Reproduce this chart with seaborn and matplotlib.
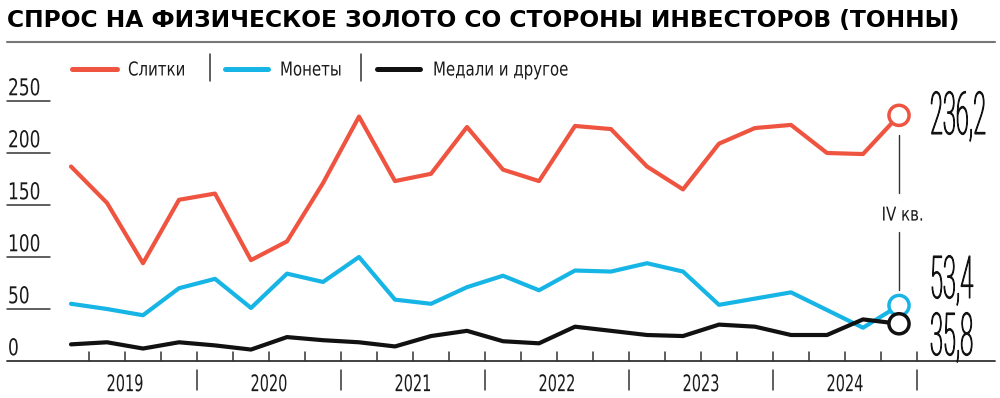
import seaborn as sns
import matplotlib.pyplot as plt
import pandas as pd
from matplotlib.lines import Line2D
from matplotlib.patheffects import AbstractPathEffect
from matplotlib.transforms import Affine2D

# DATA (тонны, 2019 Q1 - 2024 Q4)
years = ["2019", "2020", "2021", "2022", "2023", "2024"]
series_names = ["Слитки", "Монеты", "Медали и другое"]

slitki = [187, 152, 94, 155, 161, 97, 115, 171,
          235, 173, 180, 225, 184, 173, 226, 223,
          187, 165, 209, 224, 227, 200, 199, 236.2]
monety = [55, 50, 44, 70, 79, 51, 84, 76,
          100, 59, 55, 71, 82, 68, 87, 86,
          94, 86, 54, 60, 66, 49, 32, 53.4]
medali = [16, 18, 12, 18, 15, 11, 23, 20,
          18, 14, 24, 29, 19, 17, 33, 29,
          25, 24, 35, 33, 25, 25, 40, 35.8]

end_labels = ["236,2", "53,4", "35,8"]
y_ticks = [0, 50, 100, 150, 200, 250]

colors = ["#EE5440", "#17B5E5", "#111111"]

quarters = list(range(len(slitki)))
df = pd.DataFrame({
    "q": quarters * 3,
    "value": slitki + monety + medali,
    "series": [series_names[0]] * 24 + [series_names[1]] * 24 + [series_names[2]] * 24,
})
last = df[df["q"] == quarters[-1]]


# узкий шрифт: растягиваем буквы по вертикали (и при желании чуть утолщаем)
class Stretch(AbstractPathEffect):
    def __init__(self, sy, lw=0):
        super().__init__()
        self.sy = sy
        self.lw = lw

    def draw_path(self, renderer, gc, tpath, affine, rgbFace=None):
        tr = Affine2D().scale(1, self.sy) + affine
        if self.lw:
            gc0 = renderer.new_gc()
            gc0.copy_properties(gc)
            gc0.set_linewidth(self.lw)
            gc0.set_foreground(rgbFace)
            gc0.set_joinstyle("round")
            renderer.draw_path(gc0, tpath, tr, rgbFace)
            gc0.restore()
        else:
            renderer.draw_path(gc, tpath, tr, rgbFace)


narrow = dict(family="DejaVu Sans", fontstretch="condensed", color="#1a1a1a")

#GRAFICANDO
sns.set_style("white")
plt.rcParams["font.family"] = ["DejaVu Sans"]

fig = plt.figure(figsize=(10, 3.98), dpi=100)
ax = fig.add_axes([0, 0, 1, 1])

# 1 квартал = 36 px, 1 тонна = 1.04 px
ax.set_xlim(-71 / 36, (1000 - 71) / 36)
ax.set_ylim((361 - 398) / 1.04, 361 / 1.04)
ax.axis("off")

sns.lineplot(data=df, x="q", y="value", hue="series", palette=colors,
             linewidth=3, legend=False, ax=ax)
sns.scatterplot(data=last, x="q", y="value", hue="series", palette=colors,
                s=210, linewidth=2.5, legend=False, ax=ax, zorder=5)
for coll in ax.collections:
    coll.set_facecolor("white")
    coll.set_edgecolor(colors)

# ось и деления
ax.axhline(0, xmin=0.007, xmax=0.995, color="#333333", lw=1.3)
for i in quarters:
    ax.plot([i + 0.5, i + 0.5], [0, 8.5], color="#333333", lw=1.1)
for k, year in enumerate(years):
    ax.plot([4 * k + 3.5] * 2, [-8.5, -28], color="#333333", lw=1.1)
    ax.text(4 * k + 1.5, -29, year, ha="center", va="baseline",
            fontsize=11.6, path_effects=[Stretch(1.42)], **narrow)

# шкала
for v in y_ticks[1:]:
    ax.plot([-1.78, -0.58], [v, v], color="#333333", lw=1.1)
for v in y_ticks:
    ax.text(-1.75, v + 5.5, str(v), ha="left", va="baseline",
            fontsize=13.6, path_effects=[Stretch(1.23)], **narrow)

# подписи последних значений
for lab, y in zip(end_labels, [218.3, 60.6, 5.8]):
    ax.text(23.86, y, lab, ha="left", va="baseline", fontsize=17,
            family=["Roboto", "DejaVu Sans"], fontweight="light",
            color="#111111", path_effects=[Stretch(2.5, lw=0.8)])

ax.plot([23, 23], [217, 162], color="#333333", lw=1)
ax.plot([23, 23], [124, 68], color="#333333", lw=1)
ax.text(23.1, 135, "IV кв.", ha="center", va="baseline", fontsize=12,
        path_effects=[Stretch(1.15)], **narrow)

# заголовок
title = fig.text(0.007, 1 - 20 / 398,
                 "СПРОС НА ФИЗИЧЕСКОЕ ЗОЛОТО СО СТОРОНЫ ИНВЕСТОРОВ (ТОННЫ)",
                 ha="left", va="center", fontsize=17, fontweight="bold",
                 family="DejaVu Sans", color="black")
fig.canvas.draw()
w = title.get_window_extent().width
title.set_fontsize(17 * 955 / w)
fig.add_artist(Line2D([0.007, 0.995], [1 - 42 / 398] * 2,
                      transform=fig.transFigure, color="#777777", lw=1.5))

# легенда
ly = 1 - 68.5 / 398
swatches = [(72, 117, 128), (225, 268, 280), (377, 420, 433)]
for (x0, x1, xt), name, c in zip(swatches, series_names, colors):
    fig.add_artist(Line2D([x0 / 1000, x1 / 1000], [ly, ly],
                          transform=fig.transFigure, color=c, lw=3.6,
                          solid_capstyle="round"))
    fig.text(xt / 1000, 1 - 75.5 / 398, name, ha="left", va="baseline",
             fontsize=12, path_effects=[Stretch(1.15)], **narrow)
for xs in [210, 361]:
    fig.add_artist(Line2D([xs / 1000] * 2, [1 - 54 / 398, 1 - 81 / 398],
                          transform=fig.transFigure, color="#333333", lw=1.1))

plt.savefig("out.png", dpi=100)
